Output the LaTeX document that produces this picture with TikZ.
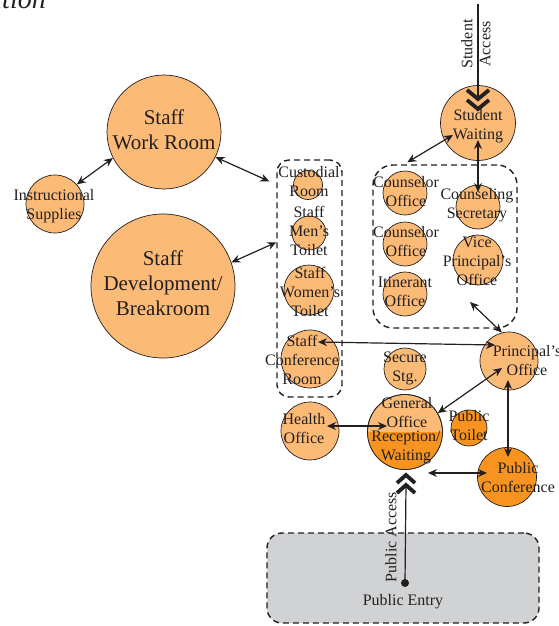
\documentclass[tikz,border=0pt]{standalone}
\usepackage{fontspec}
\setmainfont{Liberation Serif}
\usetikzlibrary{arrows.meta,calc}
\definecolor{lor}{HTML}{FBBA76}
\definecolor{dor}{HTML}{F7931E}
\definecolor{gbox}{HTML}{D1D2D4}
\definecolor{ink}{HTML}{231F20}
\begin{document}
\begin{tikzpicture}[x=1pt,y=-1pt,
 room/.style={circle,draw=ink,line width=0.7pt,fill=lor,inner sep=0pt},
 droom/.style={room,fill=dor},
 lbl/.style={font=\fontsize{16}{19}\selectfont,align=center,inner sep=0pt,text=ink},
 biglbl/.style={font=\fontsize{21}{25}\selectfont,align=center,inner sep=0pt,text=ink},
 dbl/.style={{Stealth[length=9pt,width=8pt]}-{Stealth[length=9pt,width=8pt]},line width=1.2pt,draw=ink},
 dbox/.style={draw=ink,dash pattern=on 6pt off 4pt,line width=1.4pt,inner sep=0pt},
 chev/.style={draw=ink,line width=3.8pt,line join=miter},
 conn/.style={draw=ink,line width=1.2pt}
]
\useasboundingbox (0,0) rectangle (558,626);

% title fragment
\node[font=\fontsize{28}{30}\selectfont\itshape,anchor=base east,inner sep=0pt,text=ink] (ttl) at (46,9) {ation};

% dashed groups
\node[dbox,rounded corners=12pt,minimum width=65pt,minimum height=237pt] (staffbox) at (309.5,278.5) {};
\node[dbox,rounded corners=20pt,minimum width=144pt,minimum height=163pt] (cbox) at (445,246.5) {};
\node[dbox,fill=gbox,rounded corners=15pt,minimum width=272pt,minimum height=90pt] (entrybox) at (403,578) {};

% rooms
\node[room,minimum size=114pt] (swr) at (164,132) {};
\node[room,minimum size=58pt] (is) at (55,204) {};
\node[room,minimum size=144pt] (sdb) at (163,286) {};
\node[room,minimum size=29pt] (cust) at (308,185) {};
\node[room,minimum size=34pt] (men) at (309,233) {};
\node[room,minimum size=50pt] (women) at (309,290) {};
\node[room,minimum size=58pt] (scr) at (310,359) {};
\node[room,minimum size=44pt] (co1) at (405,193) {};
\node[room,minimum size=44pt] (co2) at (405,244) {};
\node[room,minimum size=44pt] (itin) at (405,294) {};
\node[room,minimum size=44pt] (cs) at (478,207) {};
\node[room,minimum size=50pt] (vp) at (478,260) {};
\node[room,minimum size=75pt] (sw) at (478,123) {};
\node[room,minimum size=58pt] (po) at (509,361) {};
\node[room,minimum size=42pt] (ss) at (405,369) {};
\node[room,minimum size=75pt] (go) at (405,432) {};
\begin{scope}
  \clip (360,432) rectangle (450,480);
  \fill[dor] (go.center) circle (37.5pt);
\end{scope}
\draw[ink,line width=0.7pt] (go.center) circle (37.5pt);
\node[room,minimum size=58pt] (ho) at (310,431) {};
\node[droom,minimum size=36pt] (pt) at (469,428) {};
\node[droom,minimum size=59pt] (pc) at (507,477) {};

% labels
\node[biglbl] (swrt) at (164,130) {Staff\\Work Room};
\node[lbl] (ist) at (54,206) {Instructional\\Supplies};
\node[biglbl] (sdbt) at (163,283) {Staff\\Development/\\Breakroom};
\node[lbl] (custt) at (309,182) {Custodial\\Room};
\node[lbl] (ment) at (309,231) {Staff\\Men's\\Toilet};
\node[lbl] (woment) at (310,292) {Staff\\Women's\\Toilet};
\node[lbl] (scrt) at (302,360) {Staff\\Conference\\Room};
\node[lbl] (co1t) at (406,192) {Counselor\\Office};
\node[lbl] (co2t) at (406,242) {Counselor\\Office};
\node[lbl] (itint) at (405,292) {Itinerant\\Office};
\node[lbl] (cst) at (477,205) {Counseling\\Secretary};
\node[lbl] (vpt) at (477,261) {Vice\\Principal's\\Office};
\node[lbl] (swt) at (478,126) {Student\\Waiting};
\node[lbl] (pot) at (527,361) {Principal's\\Office};
\node[lbl] (sst) at (405,368) {Secure\\Stg.};
\node[lbl] (got) at (407,413) {General\\Office};
\node[lbl] (rwt) at (406,447) {Reception/\\Waiting};
\node[lbl] (hot) at (304,429) {Health\\Office};
\node[lbl] (ptt) at (469,426) {Public\\Toilet};
\node[lbl] (pct) at (518,478) {Public\\Conference};
\node[lbl] (pet) at (403,602) {Public Entry};
\node[lbl,font=\fontsize{16}{18}\selectfont,rotate=90] (salbl) at (476,44) {Student\\Access};
\node[lbl,rotate=90] (palbl) at (391,537) {Public Access};

% access lines
\coordinate (stop) at (478,4);
\coordinate (sbot) at (478,99);
\draw[conn] (stop) -- (sbot);
\draw[chev] (467,90) -- (478,99) -- (489,90);
\draw[chev] (467,100) -- (478,109) -- (489,100);

\node[circle,fill=ink,inner sep=0pt,minimum size=8pt] (pe) at (405,583) {};
\coordinate (ptop) at (406,484);
\draw[conn] (pe.center) -- (ptop);
\draw[chev] (397,483) -- (406,475) -- (415,483);
\draw[chev] (397,493) -- (406,485) -- (415,493);

% connectors
\draw[dbl] (is.42) -- (swr.207);
\draw[dbl] (swr.-26) -- ($(staffbox.north west)+(-7,22)$);
\draw[dbl] (sdb.19) -- ($(staffbox.north west)+(0,83)$);
\draw[dbl] ($(sw.center)+(-25,12)$) -- ($(cbox.north west)+(35,-2)$);
\draw[dbl] ($(sw.center)+(0,17)$) -- ($(cs.center)+(0,-15)$);
\draw[dbl] ($(vp.center)+(-8,42)$) -- (po.104);
\draw[dbl] ($(scr.center)+(8,-17)$) -- ($(po.center)+(-14,-16)$);
\draw[dbl] ($(po.center)+(-7,7)$) -- (go.30);
\draw[dbl] ($(ho.center)+(17,-5)$) -- ($(go.center)+(-18,-6)$);
\draw[dbl] ($(po.center)+(-1,19)$) -- ($(pc.center)+(1,-20)$);
\draw[dbl] ($(go.center)+(23,41)$) -- ($(pc.center)+(-20,-4)$);
\end{tikzpicture}
\end{document}
